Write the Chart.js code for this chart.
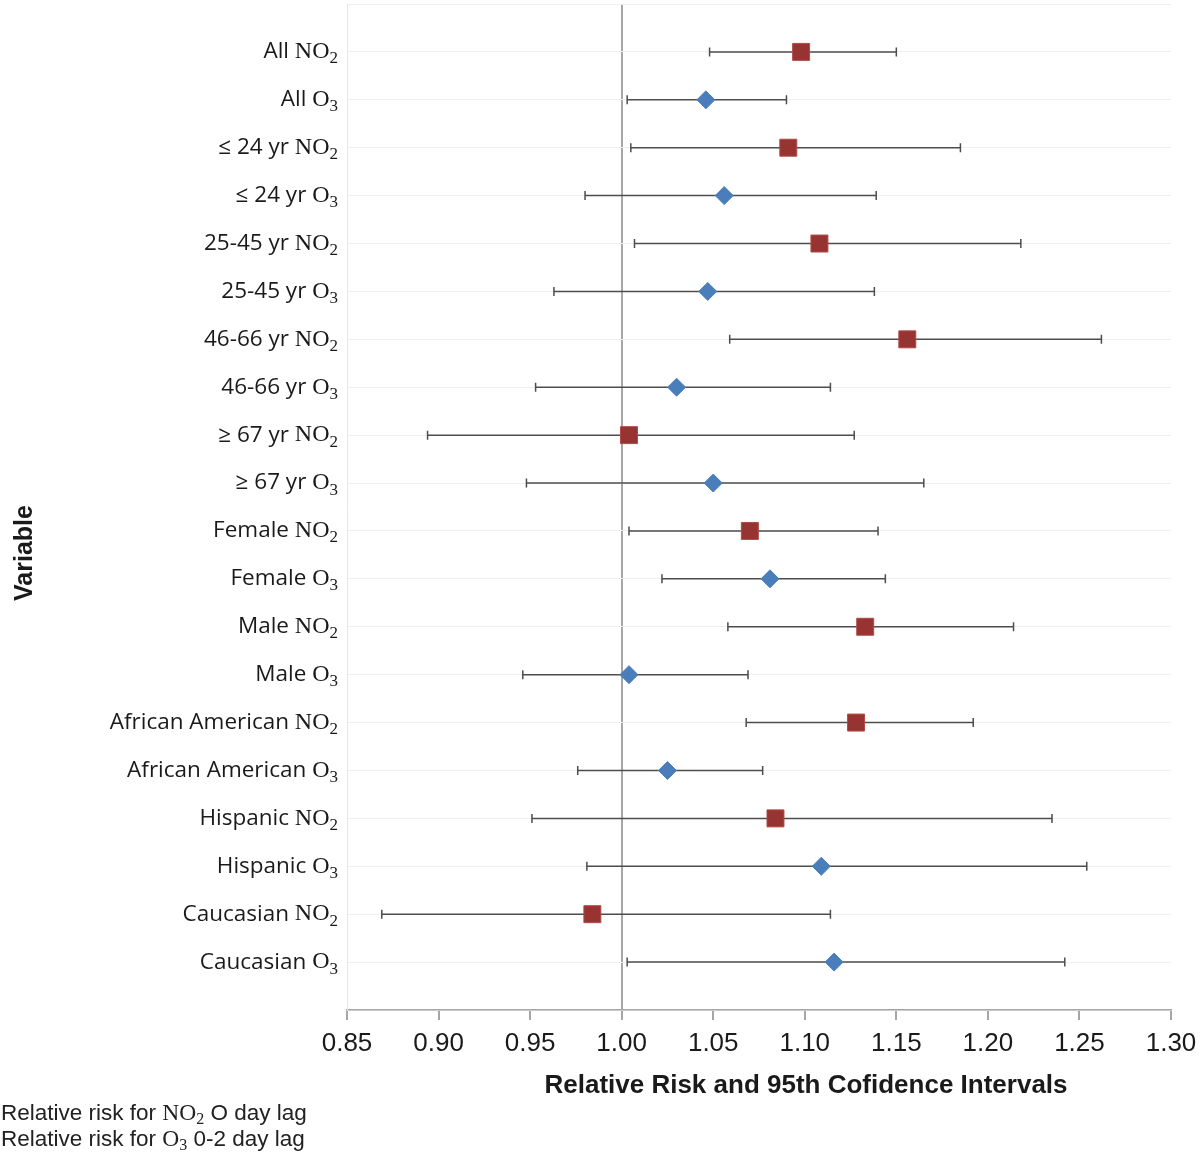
<!DOCTYPE html>
<html>
<head>
<meta charset="utf-8">
<script src="https://cdn.jsdelivr.net/npm/chart.js@4.4.1/dist/chart.umd.min.js"></script>
<style>
  html, body { margin: 0; padding: 0; background: #fff; }
  #wrap { width: 1200px; height: 1163px; position: relative; }
</style>
</head>
<body>
<div id="wrap"><canvas id="forest"></canvas></div>
<script>
// Forest plot - relative risk by subgroup, NO2 vs O3

const groups = ['All', '≤ 24 yr', '25-45 yr', '46-66 yr', '≥ 67 yr',
    'Female', 'Male', 'African American', 'Hispanic', 'Caucasian'];

const no2Est = [1.098, 1.091, 1.108, 1.156, 1.004, 1.070, 1.133, 1.128, 1.084, 0.984];
const no2Low = [1.048, 1.005, 1.007, 1.059, 0.894, 1.004, 1.058, 1.068, 0.951, 0.869];
const no2High = [1.150, 1.185, 1.218, 1.262, 1.127, 1.140, 1.214, 1.192, 1.235, 1.114];

const o3Est = [1.046, 1.056, 1.047, 1.030, 1.050, 1.081, 1.004, 1.025, 1.109, 1.116];
const o3Low = [1.003, 0.980, 0.963, 0.953, 0.948, 1.022, 0.946, 0.976, 0.981, 1.003];
const o3High = [1.090, 1.139, 1.138, 1.114, 1.165, 1.144, 1.069, 1.077, 1.254, 1.242];

const xTicks = [0.85, 0.90, 0.95, 1.00, 1.05, 1.10, 1.15, 1.20, 1.25, 1.30];

const legendLines = [
    { pre: 'Relative risk for ', chem: 'NO', sub: '2', post: ' O day lag' },
    { pre: 'Relative risk for ', chem: 'O', sub: '3', post: ' 0-2 day lag' }
];

// row positions: NO2 rows 1,3,5..; O3 rows 2,4,6..
const no2Points = no2Est.map((v, i) => ({ x: v, y: i * 2 + 1 }));
const o3Points = o3Est.map((v, i) => ({ x: v, y: i * 2 + 2 }));

const SANS = '"Open Sans", "Noto Sans", sans-serif';
const SERIF = '"Liberation Serif", serif';
const ARIAL = '"Liberation Sans", Arial, sans-serif';

// draw "pre CHEMsub post" with mixed fonts; align right or left
function drawMixed(ctx, x, y, parts, align) {
    const widths = parts.map(p => { ctx.font = p.font; return ctx.measureText(p.text).width; });
    const total = widths.reduce((a, b) => a + b, 0);
    let cx = align === 'right' ? x - total : x;
    parts.forEach((p, i) => {
        ctx.font = p.font;
        ctx.fillText(p.text, cx, y + (p.dy || 0));
        cx += widths[i];
    });
}

const errorBarPlugin = {
    id: 'errorBars',
    beforeDatasetsDraw(chart) {
        const { ctx, scales: { x, y } } = chart;
        ctx.save();
        ctx.strokeStyle = '#4d4d4d';
        ctx.lineWidth = 1.5;
        const bars = [];
        groups.forEach((g, i) => {
            bars.push([no2Low[i], no2High[i], i * 2 + 1]);
            bars.push([o3Low[i], o3High[i], i * 2 + 2]);
        });
        bars.forEach(([lo, hi, row]) => {
            const py = y.getPixelForValue(row);
            const x1 = x.getPixelForValue(lo);
            const x2 = x.getPixelForValue(hi);
            ctx.beginPath();
            ctx.moveTo(x1, py); ctx.lineTo(x2, py);
            ctx.moveTo(x1, py - 4.5); ctx.lineTo(x1, py + 4.5);
            ctx.moveTo(x2, py - 4.5); ctx.lineTo(x2, py + 4.5);
            ctx.stroke();
        });
        ctx.restore();
    }
};

const labelsPlugin = {
    id: 'rowLabels',
    afterDraw(chart) {
        const { ctx, scales: { x, y }, chartArea } = chart;
        ctx.save();
        ctx.fillStyle = '#1a1a1a';
        ctx.textBaseline = 'middle';
        ctx.textAlign = 'left';

        // row labels
        groups.forEach((g, i) => {
            [['NO', '2', i * 2 + 1], ['O', '3', i * 2 + 2]].forEach(([chem, sub, row]) => {
                const py = y.getPixelForValue(row);
                drawMixed(ctx, chartArea.left - 9, py, [
                    { text: g + ' ', font: '22.5px ' + SANS },
                    { text: chem, font: '24px ' + SERIF },
                    { text: sub, font: '17px ' + SERIF, dy: 7 }
                ], 'right');
            });
        });

        // y axis title
        ctx.save();
        ctx.translate(25, 553);
        ctx.rotate(-Math.PI / 2);
        ctx.textAlign = 'center';
        ctx.font = 'bold 25px ' + ARIAL;
        ctx.fillText('Variable', 0, 0);
        ctx.restore();

        // x axis title
        ctx.textAlign = 'center';
        ctx.font = 'bold 26px ' + ARIAL;
        ctx.fillText('Relative Risk and 95th Cofidence Intervals', 806, 1086);

        // notes under the chart
        ctx.textAlign = 'left';
        ctx.fillStyle = '#222';
        legendLines.forEach((l, i) => {
            drawMixed(ctx, 1, 1114 + i * 26, [
                { text: l.pre, font: '22.5px ' + ARIAL },
                { text: l.chem, font: '23.5px ' + SERIF },
                { text: l.sub, font: '16px ' + SERIF, dy: 6 },
                { text: l.post, font: '22.5px ' + ARIAL }
            ], 'left');
        });
        ctx.restore();
    }
};

new Chart(document.getElementById('forest'), {
    type: 'scatter',
    data: {
        datasets: [
            {
                label: 'NO2',
                data: no2Points,
                pointStyle: 'rect',
                pointRadius: 12,
                pointHoverRadius: 12,
                backgroundColor: '#973432',
                borderColor: '#b24a47',
                borderWidth: 1
            },
            {
                label: 'O3',
                data: o3Points,
                pointStyle: 'rectRot',
                pointRadius: 9,
                pointHoverRadius: 9,
                backgroundColor: '#4a7ebb',
                borderColor: '#4a7ebb',
                borderWidth: 1
            }
        ]
    },
    options: {
        responsive: true,
        maintainAspectRatio: false,
        animation: false,
        layout: { autoPadding: false, padding: { top: 4, right: 29, left: 0, bottom: 0 } },
        plugins: {
            legend: { display: false },
            tooltip: { enabled: false }
        },
        scales: {
            x: {
                type: 'linear',
                min: 0.85,
                max: 1.30,
                afterBuildTicks(scale) {
                    scale.ticks = xTicks.map(v => ({ value: v }));
                },
                afterFit(scale) {
                    scale.height = 153;
                    scale.paddingLeft = 0;
                    scale.paddingRight = 0;
                },
                ticks: {
                    color: '#1a1a1a',
                    font: { family: ARIAL, size: 26 },
                    padding: 8,
                    callback: v => v.toFixed(2)
                },
                grid: {
                    color: ctx => (ctx.tick && Math.abs(ctx.tick.value - 1) < 1e-9) ? '#a6a6a6' : 'rgba(0,0,0,0)',
                    lineWidth: 2,
                    tickColor: '#a6a6a6',
                    tickLength: 10,
                    drawTicks: true
                },
                border: { display: true, color: '#a6a6a6', width: 1.5 }
            },
            y: {
                type: 'linear',
                min: 0,
                max: 21,
                reverse: true,
                afterFit(scale) { scale.width = 347; },
                ticks: { display: false, stepSize: 1 },
                grid: { color: '#efefef', lineWidth: 1, drawTicks: false },
                border: { display: true, color: '#e6e6e6' }
            }
        }
    },
    plugins: [errorBarPlugin, labelsPlugin]
});
</script>
</body>
</html>
